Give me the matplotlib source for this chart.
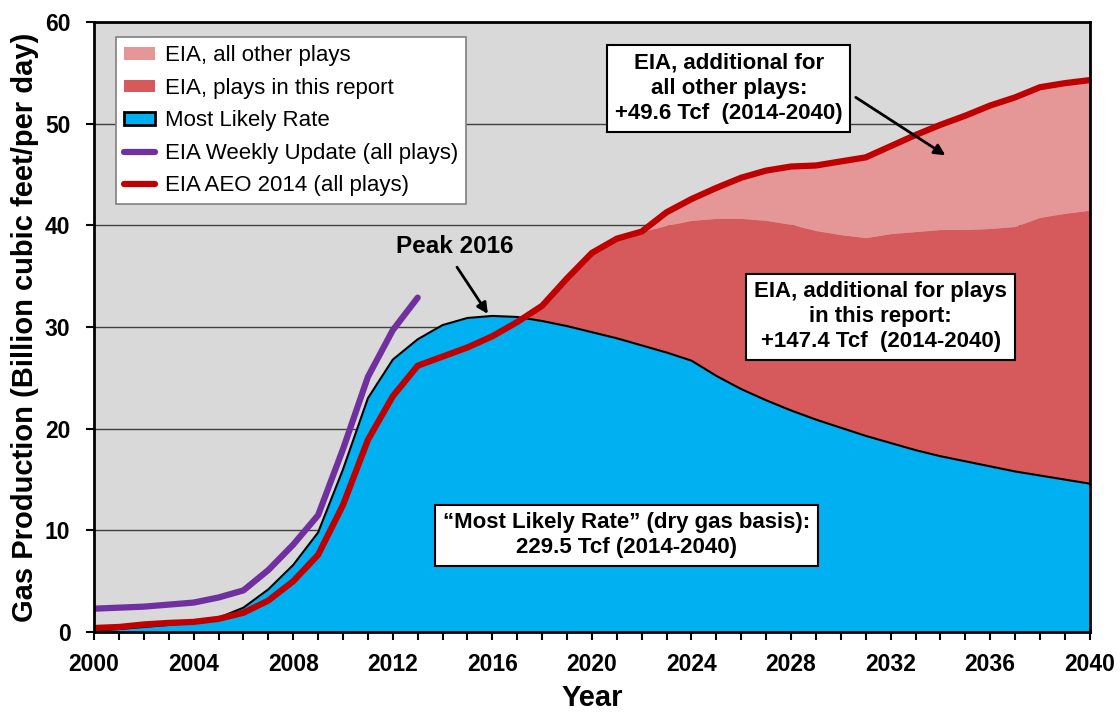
import matplotlib
matplotlib.use("Agg")
import matplotlib.pyplot as plt
from matplotlib.patches import Patch
from matplotlib.lines import Line2D
import numpy as np

plt.rcParams["font.family"] = ["Liberation Sans", "DejaVu Sans"]

years = list(range(2000, 2041))

most_likely = [0.1, 0.3, 0.5, 0.7, 0.9, 1.4, 2.4, 4.2, 6.6, 9.8,
               16.0, 23.0, 26.8, 28.8, 30.2, 30.9, 31.1, 31.0, 30.6, 30.1,
               29.5, 28.9, 28.2, 27.5, 26.7, 25.2, 23.9, 22.8, 21.8, 20.9,
               20.1, 19.3, 18.6, 17.9, 17.3, 16.8, 16.3, 15.8, 15.4, 15.0,
               14.6]

aeo_2014 = [0.4, 0.5, 0.75, 0.9, 1.0, 1.3, 1.9, 3.1, 5.0, 7.6,
            12.5, 18.9, 23.2, 26.2, 27.1, 28.0, 29.1, 30.5, 32.1, 34.8,
            37.3, 38.7, 39.4, 41.3, 42.6, 43.7, 44.7, 45.4, 45.8, 45.9,
            46.3, 46.7, 47.8, 48.9, 49.9, 50.8, 51.8, 52.6, 53.6, 54.0,
            54.3]

# EIA total for plays in this report (same as AEO line until ~2022)
report_years = list(range(2017, 2041))
report_plays = [30.5, 32.1, 34.8, 37.3, 38.7, 39.4, 40.0, 40.5, 40.7, 40.7,
                40.5, 40.1, 39.5, 39.1, 38.8, 39.2, 39.4, 39.6, 39.6, 39.7,
                39.9, 40.8, 41.2, 41.5]

weekly_years = list(range(2000, 2014))
weekly_update = [2.3, 2.4, 2.5, 2.7, 2.9, 3.4, 4.1, 6.1, 8.6, 11.5,
                 18.0, 25.1, 29.7, 32.9]

C_BLUE = "#00b0f0"
C_DARK = "#d65a5c"
C_LIGHT = "#e59798"
C_RED = "#c00000"
C_PURPLE = "#7030a0"

fig = plt.figure(figsize=(11.2, 7.15), dpi=100)
ax = fig.add_axes([0.084, 0.116, 0.889, 0.853])
ax.set_facecolor("#d9d9d9")

yrs = np.array(years)
ml = np.array(most_likely)
aeo = np.array(aeo_2014)
ry = np.array(report_years)
rp = np.array(report_plays)
ml_r = ml[ry - 2000]
aeo_r = aeo[ry - 2000]

ax.fill_between(ry, rp, aeo_r, where=aeo_r >= rp, interpolate=True,
                color=C_LIGHT, lw=0, zorder=2)
ax.fill_between(ry, ml_r, rp, where=rp >= ml_r, interpolate=True,
                color=C_DARK, lw=0, zorder=2)
ax.fill_between(yrs, 0, ml, color=C_BLUE, lw=0, zorder=3)
ax.plot(yrs, ml, color="black", lw=1.5, zorder=4)
ax.plot(yrs, aeo, color=C_RED, lw=4.5, solid_capstyle="round", zorder=5)
ax.plot(weekly_years, weekly_update, color=C_PURPLE, lw=4.5,
        solid_capstyle="round", zorder=5)

ax.set_xlim(2000, 2040)
ax.set_ylim(0, 60)
ax.set_xticks(range(2000, 2041, 4))
ax.set_xticks(range(2000, 2041), minor=True)
ax.set_yticks(range(0, 61, 10))
ax.yaxis.grid(True, color="#404040", lw=1)
ax.set_axisbelow(True)
ax.tick_params(axis="both", which="major", direction="out", length=6,
               width=1.5, labelsize=16.5)
ax.tick_params(axis="x", which="major", pad=9)
ax.tick_params(axis="y", which="major", pad=11)
ax.tick_params(axis="x", which="minor", direction="out", length=6, width=1.5)
for lab in ax.get_xticklabels() + ax.get_yticklabels():
    lab.set_fontweight("bold")
for s in ax.spines.values():
    s.set_linewidth(2)
    s.set_zorder(6)

ax.set_xlabel("Year", fontsize=21, fontweight="bold", labelpad=6)
ax.set_ylabel("Gas Production (Billion cubic feet/per day)", fontsize=21,
              fontweight="bold", labelpad=4)

handles = [
    Patch(facecolor=C_LIGHT, edgecolor="none", label="EIA, all other plays"),
    Patch(facecolor=C_DARK, edgecolor="none", label="EIA, plays in this report"),
    Patch(facecolor=C_BLUE, edgecolor="black", lw=2, label="Most Likely Rate"),
    Line2D([], [], color=C_PURPLE, lw=4.5, solid_capstyle="round",
           label="EIA Weekly Update (all plays)"),
    Line2D([], [], color=C_RED, lw=4.5, solid_capstyle="round",
           label="EIA AEO 2014 (all plays)"),
]
leg = ax.legend(handles=handles, loc="upper left", bbox_to_anchor=(0.022, 0.975),
                borderaxespad=0, fontsize=16, frameon=True, fancybox=False,
                framealpha=1, edgecolor="#808080", handlelength=1.4,
                handleheight=0.5, labelspacing=0.52, borderpad=0.35,
                handletextpad=0.45)
leg.get_frame().set_linewidth(1.2)
leg.set_zorder(7)

box = dict(boxstyle="square,pad=0.35", facecolor="white", edgecolor="black", lw=1.5)
arrow = dict(arrowstyle="-|>", color="black", lw=2, mutation_scale=16,
             shrinkA=0, shrinkB=0)

ax.text(2014.5, 37.9, "Peak 2016", ha="center", va="center",
        fontsize=17.5, fontweight="bold", zorder=8)
ax.annotate("", xy=(2015.82, 31.3), xytext=(2014.58, 35.9),
            arrowprops=arrow, zorder=8)

ax.text(2025.5, 53.5, "EIA, additional for\nall other plays:\n+49.6 Tcf  (2014-2040)",
        ha="center", va="center", fontsize=16, fontweight="bold",
        linespacing=1.25, bbox=box, zorder=8)
ax.annotate("", xy=(2034.2, 46.9), xytext=(2030.6, 52.6),
            arrowprops=arrow, zorder=8)

ax.text(2031.6, 31.0, "EIA, additional for plays\nin this report:\n+147.4 Tcf  (2014-2040)",
        ha="center", va="center", fontsize=16, fontweight="bold",
        linespacing=1.25, bbox=box, zorder=8)

ax.text(2021.4, 9.5, "\u201cMost Likely Rate\u201d (dry gas basis):\n229.5 Tcf (2014-2040)",
        ha="center", va="center", fontsize=16, fontweight="bold",
        linespacing=1.25, bbox=box, zorder=8)

fig.savefig("out.png", dpi=100)
